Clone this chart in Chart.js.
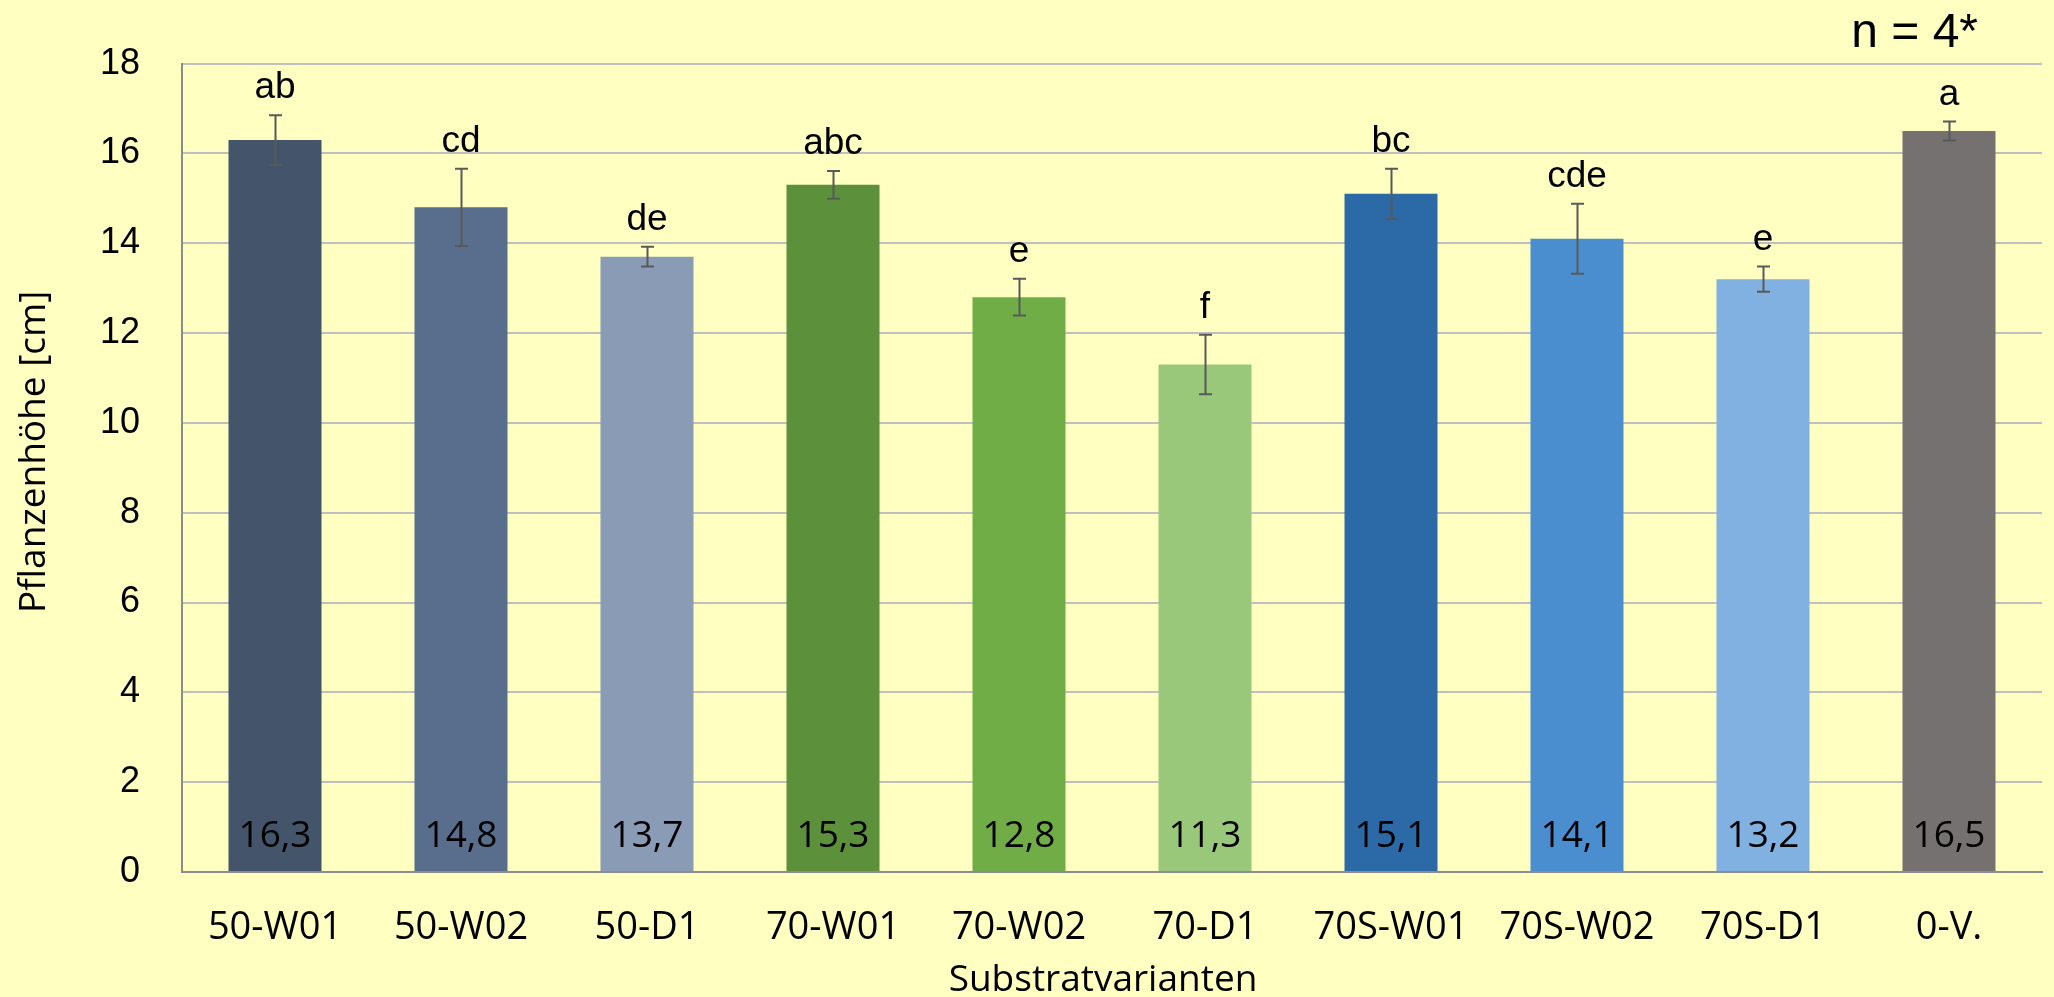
<!DOCTYPE html>
<html lang="de">
<head>
<meta charset="utf-8">
<title>Pflanzenhöhe nach Substratvarianten</title>
<script src="https://cdn.jsdelivr.net/npm/chart.js@4.4.1/dist/chart.umd.min.js"></script>
<style>
  html, body { margin: 0; padding: 0; background: #FFFFC2; }
  #wrap { width: 2054px; height: 997px; }
  canvas { display: block; }
</style>
</head>
<body>
<div id="wrap"><canvas id="chart" width="2054" height="997"></canvas></div>
<script>
// Substratvarianten und mittlere Pflanzenhöhe [cm]
const categories = ['50-W01', '50-W02', '50-D1', '70-W01', '70-W02', '70-D1', '70S-W01', '70S-W02', '70S-D1', '0-V.'];
const heights = [16.3, 14.8, 13.7, 15.3, 12.8, 11.3, 15.1, 14.1, 13.2, 16.5];
// Standardabweichung
const deviations = [0.55, 0.86, 0.22, 0.31, 0.41, 0.66, 0.56, 0.78, 0.28, 0.21];
// Signifikanzbuchstaben
const groups = ['ab', 'cd', 'de', 'abc', 'e', 'f', 'bc', 'cde', 'e', 'a'];
const sampleNote = 'n = 4*';
const yTitle = 'Pflanzenhöhe [cm]';
const xTitle = 'Substratvarianten';

const barColors = ['#44546A', '#586E8C', '#8A9BB5', '#5C903B', '#70AD47', '#99C87B', '#2C6AA7', '#4A8ECF', '#80B1E1', '#767171'];

const BG = '#FFFFC2';
const SANS = '"Liberation Sans", Arial, sans-serif';
const CAL = '"Open Sans", "Noto Sans", sans-serif';

const decorations = {
  id: 'decorations',
  beforeDraw(chart) {
    const ctx = chart.ctx;
    ctx.save();
    ctx.fillStyle = BG;
    ctx.fillRect(0, 0, chart.width, chart.height);
    ctx.restore();
  },
  afterDatasetsDraw(chart) {
    const ctx = chart.ctx;
    const meta = chart.getDatasetMeta(0);
    const y = chart.scales.y;
    const area = chart.chartArea;
    ctx.save();
    meta.data.forEach((bar, i) => {
      const v = heights[i];
      const e = deviations[i];
      const yTop = y.getPixelForValue(v + e);
      const yBot = y.getPixelForValue(v - e);
      const x = Math.round(bar.x) + 0.5;
      // Fehlerbalken
      ctx.strokeStyle = '#595959';
      ctx.lineWidth = 2;
      ctx.beginPath();
      ctx.moveTo(x, yTop); ctx.lineTo(x, yBot);
      ctx.moveTo(x - 6.5, yTop); ctx.lineTo(x + 6.5, yTop);
      ctx.moveTo(x - 6.5, yBot); ctx.lineTo(x + 6.5, yBot);
      ctx.stroke();
      // Signifikanzbuchstaben
      ctx.fillStyle = '#000';
      ctx.font = '37px ' + SANS;
      ctx.textAlign = 'center';
      ctx.textBaseline = 'alphabetic';
      ctx.fillText(groups[i], bar.x, yTop - 17);
      // Mittelwert im Balken
      ctx.font = '37px ' + CAL;
      ctx.fillText(v.toFixed(1).replace('.', ','), bar.x, area.bottom - 25);
    });

    // Achsentitel
    ctx.font = '37px ' + CAL;
    ctx.fillStyle = '#000';
    ctx.textAlign = 'center';
    ctx.textBaseline = 'alphabetic';
    ctx.fillText(xTitle, (area.left + area.right) / 2 - 9, 991);

    ctx.save();
    ctx.translate(45, (area.top + area.bottom) / 2 - 16);
    ctx.rotate(-Math.PI / 2);
    ctx.fillText(yTitle, 0, 0);
    ctx.restore();

    // Stichprobenumfang
    ctx.font = '48px ' + SANS;
    ctx.textAlign = 'right';
    ctx.fillText(sampleNote, 1978, 47);
    ctx.restore();
  }
};

function build() {
  new Chart(document.getElementById('chart'), {
    type: 'bar',
    data: {
      labels: categories,
      datasets: [{
        data: heights,
        backgroundColor: barColors,
        borderWidth: 0,
        categoryPercentage: 1,
        barPercentage: 0.5
      }]
    },
    options: {
      responsive: false,
      animation: false,
      devicePixelRatio: 1,
      layout: { padding: { top: 60, right: 12, left: 0, bottom: 0 } },
      plugins: { legend: { display: false }, tooltip: { enabled: false } },
      scales: {
        x: {
          afterFit(scale) { scale.height = 125; },
          grid: { display: false, drawTicks: false },
          border: { display: true, color: '#8C8C8C', width: 2 },
          ticks: { color: '#000', font: { family: CAL, size: 38 }, padding: 33, maxRotation: 0, autoSkip: false }
        },
        y: {
          min: 0,
          max: 18,
          afterFit(scale) { scale.width = 182; },
          grid: { color: '#BFBFBF', lineWidth: 2, drawTicks: false },
          border: { display: true, color: '#8C8C8C', width: 2 },
          ticks: { stepSize: 2, color: '#000', font: { family: SANS, size: 36 }, padding: 42 }
        }
      }
    },
    plugins: [decorations]
  });
}

const fontsReady = document.fonts && document.fonts.load
  ? Promise.all([
      document.fonts.load('37px "Open Sans"'),
      document.fonts.load('37px "Liberation Sans"')
    ]).catch(() => {})
  : Promise.resolve();
fontsReady.then(build);
</script>
</body>
</html>
